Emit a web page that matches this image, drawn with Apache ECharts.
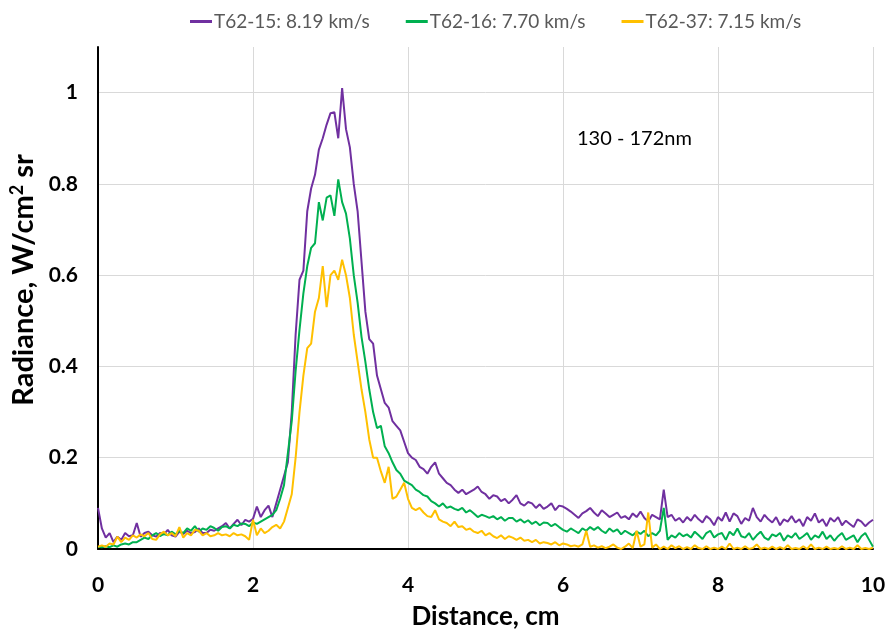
<!DOCTYPE html>
<html><head><meta charset="utf-8">
<script src="https://cdn.jsdelivr.net/npm/echarts@6/dist/echarts.min.js"></script>
<style>html,body{margin:0;padding:0;background:#fff}#c{width:886px;height:632px}</style>
</head><body><div id="c"></div>
<script>
// Sampling grid for distance (cm)
const xStep = 0.05;
const seriesNames = ['T62-15: 8.19 km/s', 'T62-16: 7.70 km/s', 'T62-37: 7.15 km/s'];
const xTicks = [0, 2, 4, 6, 8, 10];
const yTicks = [0, 0.2, 0.4, 0.6, 0.8, 1];
const annotation = '130 - 172nm';

const purple = [
0.09,0.045,0.025,0.035,0.015,0.027,0.02,0.035,0.028,0.03,
0.057,0.027,0.035,0.038,0.03,0.027,0.035,0.032,0.042,0.03,
0.027,0.038,0.033,0.04,0.035,0.037,0.045,0.035,0.035,0.042,
0.04,0.045,0.05,0.057,0.045,0.055,0.064,0.052,0.064,0.06,
0.066,0.093,0.07,0.085,0.095,0.07,0.10,0.13,0.16,0.19,
0.30,0.47,0.59,0.61,0.74,0.79,0.82,0.875,0.90,0.93,
0.955,0.957,0.90,1.01,0.92,0.88,0.80,0.74,0.63,0.52,
0.46,0.45,0.38,0.35,0.32,0.31,0.28,0.27,0.26,0.235,
0.21,0.20,0.195,0.18,0.175,0.165,0.18,0.19,0.165,0.155,
0.145,0.14,0.13,0.123,0.13,0.12,0.125,0.13,0.137,0.125,
0.12,0.11,0.118,0.115,0.105,0.11,0.10,0.108,0.118,0.10,
0.095,0.103,0.10,0.09,0.098,0.088,0.093,0.10,0.085,0.095,
0.093,0.088,0.082,0.075,0.068,0.078,0.083,0.09,0.08,0.072,
0.085,0.078,0.07,0.075,0.08,0.068,0.072,0.065,0.078,0.07,
0.082,0.068,0.06,0.075,0.07,0.065,0.13,0.07,0.075,0.062,
0.068,0.058,0.07,0.062,0.075,0.065,0.058,0.072,0.065,0.052,
0.07,0.062,0.08,0.06,0.078,0.072,0.055,0.068,0.062,0.09,
0.07,0.06,0.075,0.065,0.058,0.07,0.052,0.065,0.06,0.072,
0.058,0.065,0.05,0.07,0.062,0.078,0.058,0.065,0.05,0.068,
0.06,0.07,0.052,0.062,0.055,0.048,0.065,0.06,0.05,0.058,
0.064];

const green = [
0.005,0.004,0.006,0.004,0.008,0.005,0.01,0.012,0.01,0.015,
0.015,0.02,0.025,0.022,0.03,0.035,0.028,0.033,0.03,0.038,
0.032,0.04,0.035,0.045,0.04,0.05,0.038,0.045,0.042,0.05,
0.046,0.04,0.048,0.05,0.045,0.053,0.05,0.056,0.055,0.05,
0.058,0.055,0.06,0.065,0.07,0.075,0.085,0.11,0.14,0.21,
0.28,0.39,0.48,0.56,0.62,0.66,0.67,0.76,0.72,0.77,
0.775,0.73,0.81,0.76,0.735,0.68,0.60,0.54,0.465,0.41,
0.35,0.30,0.265,0.27,0.225,0.21,0.19,0.173,0.165,0.15,
0.145,0.14,0.13,0.125,0.118,0.115,0.105,0.10,0.093,0.10,
0.09,0.093,0.088,0.085,0.09,0.08,0.085,0.078,0.07,0.075,
0.072,0.068,0.072,0.065,0.07,0.062,0.068,0.068,0.06,0.065,
0.058,0.063,0.055,0.06,0.052,0.058,0.057,0.05,0.055,0.048,
0.042,0.038,0.045,0.04,0.035,0.045,0.04,0.048,0.042,0.048,
0.04,0.035,0.045,0.038,0.043,0.032,0.04,0.035,0.03,0.038,
0.033,0.04,0.028,0.035,0.03,0.04,0.09,0.02,0.03,0.025,
0.035,0.028,0.032,0.025,0.038,0.03,0.022,0.035,0.04,0.025,
0.032,0.035,0.02,0.038,0.03,0.045,0.028,0.025,0.035,0.02,
0.03,0.038,0.025,0.02,0.032,0.028,0.035,0.018,0.03,0.025,
0.035,0.022,0.028,0.035,0.02,0.03,0.025,0.038,0.022,0.03,
0.018,0.028,0.035,0.02,0.025,0.03,0.015,0.028,0.035,0.02,
0.005];

const yellow = [
0.005,0.008,0.005,0.012,0.01,0.027,0.015,0.025,0.02,0.03,
0.025,0.032,0.028,0.035,0.022,0.02,0.032,0.038,0.03,0.035,
0.028,0.048,0.025,0.035,0.03,0.042,0.04,0.03,0.035,0.028,
0.03,0.035,0.03,0.032,0.028,0.035,0.03,0.032,0.028,0.02,
0.064,0.03,0.045,0.035,0.04,0.048,0.053,0.045,0.06,0.09,
0.12,0.20,0.30,0.38,0.44,0.45,0.52,0.55,0.62,0.53,
0.60,0.61,0.59,0.634,0.60,0.55,0.47,0.41,0.35,0.30,
0.24,0.20,0.20,0.17,0.145,0.18,0.11,0.115,0.13,0.145,
0.11,0.09,0.085,0.09,0.08,0.072,0.07,0.085,0.065,0.06,
0.057,0.05,0.06,0.048,0.05,0.042,0.045,0.038,0.035,0.04,
0.03,0.035,0.028,0.024,0.03,0.022,0.028,0.025,0.02,0.025,
0.018,0.02,0.015,0.02,0.012,0.015,0.013,0.01,0.015,0.008,
0.012,0.01,0.006,0.008,0.005,0.01,0.04,0.005,0.008,0.003,
0.006,0.002,0.005,0.01,0.003,0.0,0.005,0.012,0.002,0.04,
0.005,0.01,0.08,0.003,0.01,0.0,0.005,0.0,0.008,0.002,
0.006,0.0,0.004,0.0,0.008,0.002,0.0,0.006,0.0,0.003,
0.0,0.005,0.0,0.012,0.0,0.003,0.0,0.006,0.0,0.002,
0.01,0.0,0.003,0.0,0.005,0.0,0.004,0.0,0.008,0.0,
0.002,0.0,0.006,0.0,0.01,0.0,0.003,0.0,0.005,0.0,
0.002,0.0,0.006,0.0,0.003,0.0,0.008,0.0,0.002,0.0,
0.003];

const colors = ['#7030A0', '#00B050', '#FFC000'];
function pairs(vals){ return vals.map((v,i)=>[+(i*xStep).toFixed(2), v]); }

const chart = echarts.init(document.getElementById('c'), null, {renderer:'canvas'});
const FONT = 'Lato';
chart.setOption({
  animation: false,
  backgroundColor: '#fff',
  color: colors,
  legend: {
    top: 7, left: 185,
    icon: 'rect', itemWidth: 22, itemHeight: 3, itemGap: 36,
    textStyle: { fontFamily: FONT, fontSize: 19, color: '#595959', padding: [0,0,0,-3] },
    data: seriesNames
  },
  grid: { left: 98, right: 13, top: 47, bottom: 83, outerBoundsMode: 'none', containLabel: false },
  xAxis: {
    type: 'value', min: xTicks[0], max: xTicks[xTicks.length-1], interval: 2,
    name: 'Distance, cm', nameLocation: 'middle', nameGap: 55,
    nameTextStyle: { fontFamily: FONT, fontSize: 26, fontWeight: 'bold', color: '#000' },
    axisLine: { show: true, onZero: false, lineStyle: { color: '#000', width: 2 } },
    axisTick: { show: false },
    axisLabel: { fontFamily: FONT, fontSize: 21, fontWeight: 'bold', color: '#000', margin: 26 },
    splitLine: { show: true, lineStyle: { color: '#D9D9D9', width: 1 } }
  },
  yAxis: {
    type: 'value', min: 0, max: 1.1, interval: 0.2,
    name: 'Radiance, W/cm{sup|2} sr', nameLocation: 'middle', nameGap: 58,
    nameTextStyle: { fontFamily: FONT, fontSize: 29, fontWeight: 'bold', color: '#000', padding: [0,0,0,36],
      rich: { sup: { fontFamily: FONT, fontSize: 18, fontWeight: 'bold', color: '#000', padding: [0,0,13,0] } } },
    axisLine: { show: true, lineStyle: { color: '#000', width: 2 } },
    axisTick: { show: false },
    axisLabel: { fontFamily: FONT, fontSize: 21, fontWeight: 'bold', color: '#000', margin: 20,
      showMaxLabel: false,
      formatter: v => (yTicks.some(t => Math.abs(t - v) < 1e-9) ? String(+v.toFixed(1)) : '') },
    splitLine: { show: true, lineStyle: { color: ['#D9D9D9','#D9D9D9','#D9D9D9','#D9D9D9','#D9D9D9','#D9D9D9','transparent'], width: 1 } }
  },
  graphic: [{
    type: 'text', left: 577, top: 129,
    style: { text: annotation, fontFamily: FONT, fontSize: 20, fill: '#000' }
  }],
  series: [purple, green, yellow].map((d, i) => ({
    name: seriesNames[i], type: 'line', data: pairs(d),
    showSymbol: false, symbol: 'none',
    lineStyle: { width: 2, color: colors[i] },
    itemStyle: { color: colors[i] },
    z: 2 + i
  }))
});
</script></body></html>
